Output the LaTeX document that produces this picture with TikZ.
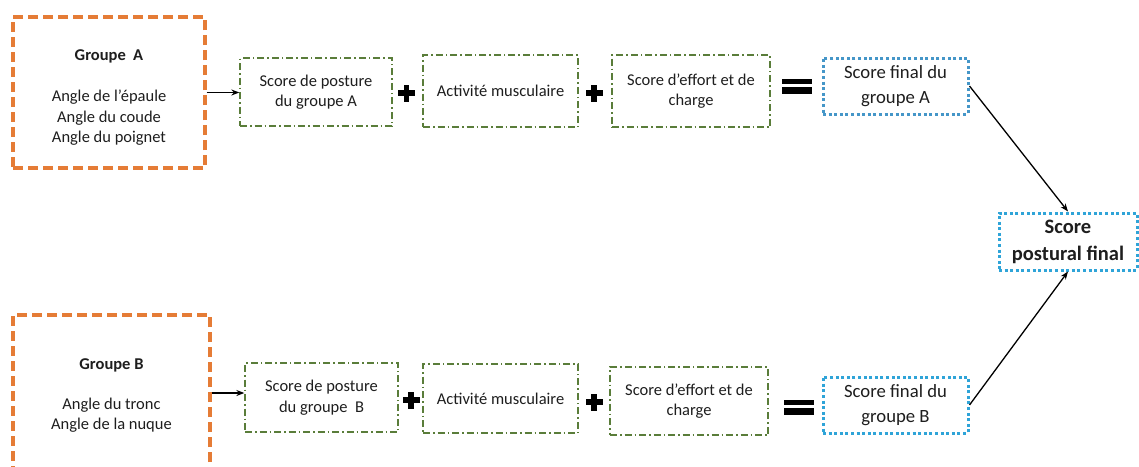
\documentclass[tikz,border=0pt]{standalone}
\usepackage{fontspec}
\setmainfont{Carlito}
\usetikzlibrary{arrows.meta}
\definecolor{orangeB}{HTML}{E57C36}
\definecolor{greenB}{HTML}{5A7D3A}
\definecolor{blueA}{HTML}{4596C8}
\definecolor{blueB}{HTML}{2FA4D8}
\definecolor{ink}{HTML}{1E1E1E}
\tikzset{
  inbox/.style={draw=orangeB, line width=3.2pt, dash pattern=on 10pt off 5pt, minimum width=#1, inner sep=0pt},
  stepbox/.style={draw=greenB, line width=1.3pt, dash pattern=on 7pt off 3pt on 1.5pt off 3pt, align=center, inner sep=0pt, text=ink, font=\fontsize{16.5}{20.5}\selectfont},
  finalbox/.style={draw=#1, line width=3pt, dash pattern=on 3pt off 2.6pt, align=center, inner sep=0pt, text=ink},
  txt/.style={align=center, inner sep=0pt, text=ink, font=\fontsize{16.5}{20.5}\selectfont},
  conn/.style={line width=1.3pt, -{Stealth[length=8pt,width=6pt]}},
  opsign/.style={fill=black, draw=none}
}
\begin{document}
\begin{tikzpicture}[x=1pt,y=-1pt]
\useasboundingbox (0,0) rectangle (1139,466);
\fill[white] (0,0) rectangle (1139,466);

% group A
\node[inbox=192pt, minimum height=151pt] (gA) at (109,92.5) {};
\node[txt] (gAt) at (109,98) {\textbf{Groupe\ \ A}\\[20.5pt]Angle de l’épaule\\Angle du coude\\Angle du poignet};
\node[stepbox, minimum width=152pt, minimum height=68pt] (pA) at (316,92) {Score de posture\\du groupe A};
\node[stepbox, minimum width=155pt, minimum height=72pt] (mA) at (500.5,91) {Activité musculaire};
\node[stepbox, minimum width=158pt, minimum height=72pt] (eA) at (691,91) {Score d’effort et de\\charge};
\node[finalbox=blueA, minimum width=145pt, minimum height=56pt, font=\fontsize{18.7}{25}\selectfont] (fA) at (895.5,86) {Score final du\\groupe A};

% final
\node[finalbox=blueB, minimum width=138pt, minimum height=57pt, font=\fontsize{20.5}{27}\selectfont\bfseries] (F) at (1068,241.5) {Score\\postural final};

% group B
\node[inbox=197pt, minimum height=160pt] (gB) at (111.5,395) {};
\node[txt] (gBt) at (111.5,395.5) {\textbf{Groupe B}\\[19pt]Angle du tronc\\Angle de la nuque};
\node[stepbox, minimum width=153pt, minimum height=69pt] (pB) at (321.5,397.5) {Score de posture\\du groupe\ \ B};
\node[stepbox, minimum width=155pt, minimum height=69pt] (mB) at (500.5,398.5) {Activité musculaire};
\node[stepbox, minimum width=158pt, minimum height=68pt] (eB) at (689,401) {Score d’effort et de\\charge};
\node[finalbox=blueB, minimum width=145pt, minimum height=56pt, font=\fontsize{18.7}{25}\selectfont] (fB) at (895.5,405) {Score final du\\groupe B};

% plus and equals signs
\foreach \n/\x/\y in {p1/406.5/93, p2/594/93, p3/411/400, p4/594/402}{
  \coordinate (\n) at (\x,\y);
  \fill[opsign] ([xshift=-8.5pt,yshift=-2.8pt]\n) rectangle ([xshift=8.5pt,yshift=2.8pt]\n);
  \fill[opsign] ([xshift=-2.8pt,yshift=-8.5pt]\n) rectangle ([xshift=2.8pt,yshift=8.5pt]\n);
}
\foreach \n/\x/\y in {q1/797/86, q2/799/407}{
  \coordinate (\n) at (\x,\y);
  \fill[opsign] ([xshift=-15pt,yshift=-7.5pt]\n) rectangle ([xshift=15pt,yshift=-1.2pt]\n);
  \fill[opsign] ([xshift=-15pt,yshift=1.8pt]\n) rectangle ([xshift=15pt,yshift=7.5pt]\n);
}

% connectors
\draw[conn] (gA.east) -- (gA.east -| pA.west);
\draw[conn] (gB.east |- 0,393) -- (pB.west |- 0,393);
\draw[conn] (fA.east) -- (F.north);
\draw[conn] (fB.east) -- (F.south);
\end{tikzpicture}
\end{document}
